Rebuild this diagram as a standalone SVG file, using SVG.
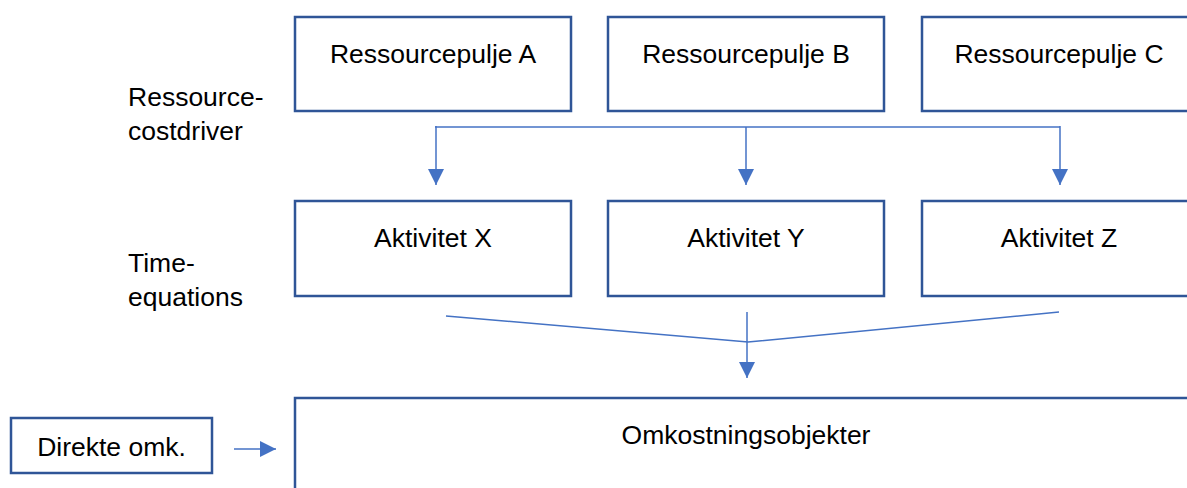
<svg xmlns="http://www.w3.org/2000/svg" width="1187" height="488" viewBox="0 0 1187 488">
<style>
.box{fill:#fff;stroke:#2F5597;stroke-width:2.5}
.t{font-family:"Liberation Sans",Arial,sans-serif;font-size:26.5px;fill:#000;text-anchor:middle}
.l{font-family:"Liberation Sans",Arial,sans-serif;font-size:26.5px;fill:#000}
.c{fill:none;stroke:#4472C4;stroke-width:1.5}
</style>
<defs>
<marker id="ah" markerWidth="16" markerHeight="16" viewBox="0 0 16 16" refX="16" refY="8" orient="auto" markerUnits="userSpaceOnUse">
<path d="M0,0 L16,8 L0,16 Z" fill="#4472C4"/>
</marker>
</defs>
<rect width="1187" height="488" fill="#fff"/>
<g id="label-ressource-costdriver">
<text class="l" x="128" y="106">Ressource-</text>
<text class="l" x="128" y="140">costdriver</text>
</g>
<g id="label-time-equations">
<text class="l" x="128" y="272">Time-</text>
<text class="l" x="128" y="306">equations</text>
</g>
<g id="pool-a"><rect class="box" x="295" y="17" width="276" height="94"/><text class="t" x="433" y="63">Ressourcepulje A</text></g>
<g id="pool-b"><rect class="box" x="608" y="17" width="276" height="94"/><text class="t" x="746" y="63">Ressourcepulje B</text></g>
<g id="pool-c"><rect class="box" x="922" y="17" width="276" height="94"/><text class="t" x="1059" y="63">Ressourcepulje C</text></g>
<g id="act-x"><rect class="box" x="295" y="201" width="276" height="95"/><text class="t" x="433" y="247">Aktivitet X</text></g>
<g id="act-y"><rect class="box" x="608" y="201" width="276" height="95"/><text class="t" x="746" y="247">Aktivitet Y</text></g>
<g id="act-z"><rect class="box" x="922" y="201" width="276" height="95"/><text class="t" x="1059" y="247">Aktivitet Z</text></g>
<g id="cost-objects"><rect class="box" x="295" y="398" width="910" height="110"/><text class="t" x="746" y="444">Omkostningsobjekter</text></g>
<g id="direct-costs"><rect class="box" x="11" y="418" width="201" height="55"/><text class="t" x="111.5" y="456">Direkte omk.</text></g>
<g id="connectors">
<line class="c" x1="435" y1="127" x2="1060" y2="127"/>
<line class="c" x1="436" y1="126" x2="436" y2="185" marker-end="url(#ah)"/>
<line class="c" x1="746" y1="127" x2="746" y2="185" marker-end="url(#ah)"/>
<line class="c" x1="1060" y1="126" x2="1060" y2="185" marker-end="url(#ah)"/>
<polyline class="c" points="446,316 748,342 1059,312"/>
<line class="c" x1="747" y1="312" x2="747" y2="378" marker-end="url(#ah)"/>
<line class="c" x1="234" y1="449" x2="276" y2="449" marker-end="url(#ah)"/>
</g>
</svg>
